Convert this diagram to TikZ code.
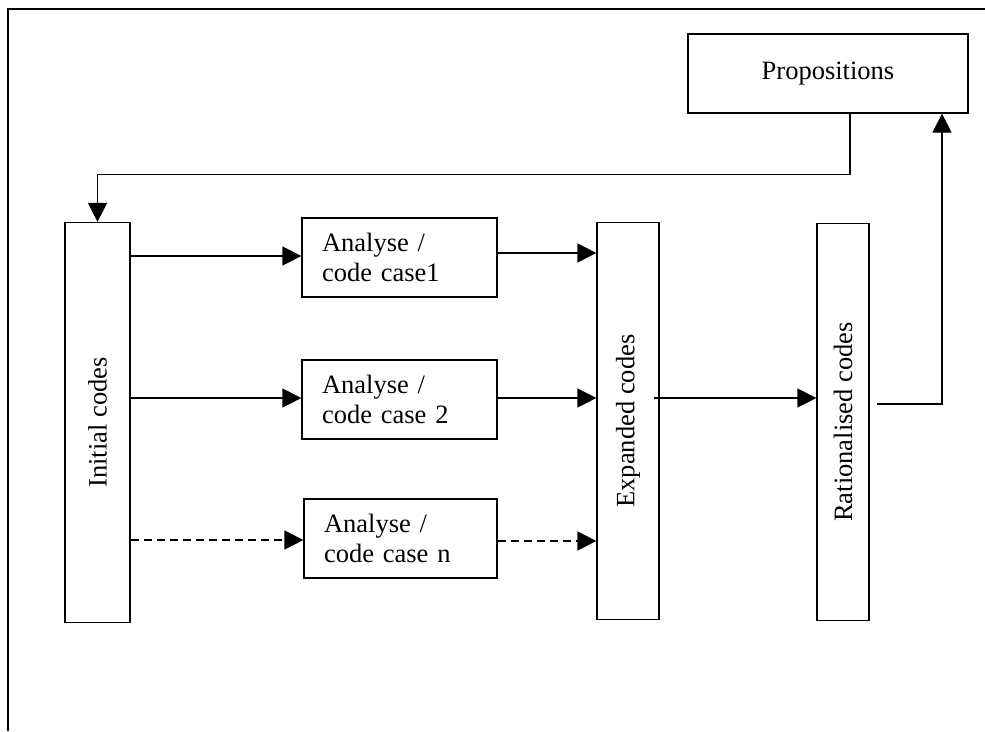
\documentclass[tikz,border=0pt]{standalone}
\usepackage{fontspec}
\setmainfont{Liberation Serif}
\usepackage{graphicx}
\usetikzlibrary{arrows.meta}
\begin{document}
\begin{tikzpicture}[x=1pt,y=-1pt,
  every node/.style={font=\fontsize{26.5}{30}\selectfont},
  box/.style={draw, line width=1.2pt, inner sep=0pt, rectangle},
  casebox/.style={box, minimum height=79pt, text width=155pt, inner xsep=20pt, align=left},
  arr/.style={line width=1.2pt, -{Triangle[length=19pt,width=19pt]}},
  dasharr/.style={arr, dash pattern=on 8pt off 5pt}]
\useasboundingbox (0,0) rectangle (985,731);
\fill[white] (0,0) rectangle (985,731);
% frame
\draw[line width=1.2pt] (8,731) -- (8,9) -- (985,9);
% nodes
\node[box, minimum width=280pt, minimum height=79pt] (prop) at (828,73.5) {Propositions};
\node[box, minimum width=65pt, minimum height=400pt] (init) at (97.5,422.5) {\rotatebox{90}{Initial codes}};
\node[casebox] (c1) at (399.5,257.5) {Analyse /\\code case1};
\node[casebox] (c2) at (399.5,399.5) {Analyse /\\code case 2};
\node[casebox, text width=153pt] (cn) at (400.5,538.5) {Analyse /\\code case n};
\node[box, minimum width=62pt, minimum height=397pt] (exp) at (628,421) {\rotatebox{90}{Expanded codes}};
\node[box, minimum width=52pt, minimum height=397pt] (rat) at (843,422) {\rotatebox{90}{Rationalised codes}};
% connectors
\draw[arr] ([xshift=22pt]prop.south) -- ++(0,61) -| (init.north);
\draw[arr] (init.east |- 0,256) -- (c1.west |- 0,256);
\draw[arr] (init.east |- 0,398) -- (c2.west |- 0,398);
\draw[dasharr] (init.east |- 0,540) -- (cn.west |- 0,540);
\draw[arr] (c1.east |- 0,253) -- (exp.west |- 0,253);
\draw[arr] (c2.east |- 0,398) -- (exp.west |- 0,398);
\draw[dasharr] (cn.east |- 0,541) -- (exp.west |- 0,541);
\draw[arr] ([xshift=-6pt]exp.east |- 0,398) -- (rat.west |- 0,398);
\draw[arr] ([xshift=7pt]rat.east |- 0,404) -| ([xshift=114pt]prop.south);
\end{tikzpicture}
\end{document}
